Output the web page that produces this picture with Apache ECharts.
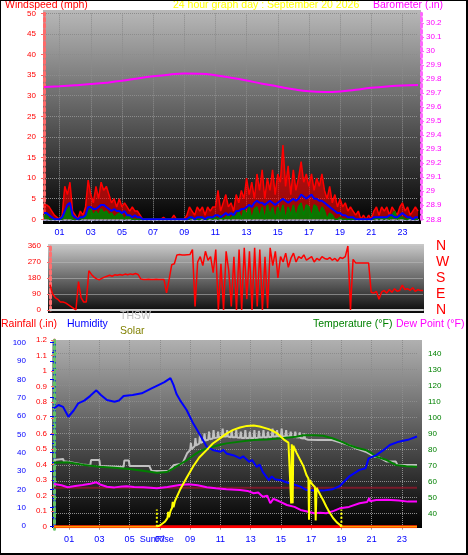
<!DOCTYPE html>
<html><head><meta charset="utf-8">
<script src="https://cdn.jsdelivr.net/npm/echarts@6/dist/echarts.min.js"></script>
<style>
html,body{margin:0;padding:0;background:#fff}
#wrap{position:relative;width:468px;height:555px}
#c{width:468px;height:555px}
#b{position:absolute;left:0;top:0;width:468px;height:555px;box-sizing:border-box;border:1px solid #000;border-right-width:2px;border-bottom-width:2px;pointer-events:none}
</style>
</head><body><div id="wrap"><div id="c"></div><div id="b"></div></div>
<script>
// ---------- tick labels / axis values ----------
const hourTicks = [1,3,5,7,9,11,13,15,17,19,21,23];
const sunTimes = [6.8, 19.0];               // sunrise, sunset (hours)
const compass = {0:'N', 90:'E', 180:'S', 270:'W', 360:'N'};

// ---------- top panel: 10-minute samples (index/6 = hour) ----------
const windGust = [
3.5,3.5,3,2,1,0.5, 0,1,8,6,9,2, 1,0,2,1,3,9.5, 6,4,8,5,9,7, 8,6,4,5,3,5, 3,4,3,2,3,2,
2,1,0,0,0,0, 0,0,0,0,0.5,0, 0,0,1,0,0,0, 0,1,3,2,1,3, 2,3,1,3,2,3, 3,7,2,4,6,3,
4,2,6,4,7,5, 10,6,9,5,11,7, 12,5,10,7,12,6, 11,9,18,8,13,6, 12,7,10,14,9,11, 8,11,7,10,8,11,
7,5,8,4,6,3, 5,3,4,2,3,2, 1,2,0,1,0,1, 0,2,3,1,3,2, 3,1,3,2,1,3, 4,2,3,1,2,3, 2];
const windSpeed = [
1.5,1.5,1,0.5,0,0, 0,0.5,2,3.5,4,1, 0.5,0,0.5,0.5,1,3, 3,2.5,2.5,3,3.5,3.5, 3,2.5,2,2.5,2,2, 1.5,2,1,1,0.5,1,
0.5,0.5,0,0,0,0, 0,0,0,0,0,0, 0,0,0,0,0,0, 0,0,0.5,0.5,0,0.5, 0.5,0.5,0,0.5,0.5,0.5, 1,1,0.5,1,1.5,1,
1.5,1,2,2,2.5,2.5, 3,3.5,3,4,4.5,4, 4,3.5,4,4.5,4,3.5, 4,4.5,5,4.5,4,4.5, 5,4.5,5,6,5.5,5, 5.5,6,5,5,4.5,4.5,
4,3.5,3,2.5,2,1.5, 1.5,1,1,0.5,0.5,0.5, 0,0,0,0,0,0, 0,0.5,0.5,0.5,0.5,0.5, 0.5,1,1,0.5,0.5,1, 1.5,1,0.5,0.5,0,0.5, 0.5];
const windAvg = [
0.5,1.5,0,0,0,0, 0,0,1,2.5,3,0, 0,0,0,0.5,0.5,2, 2.5,1,2,1,2.5,1.5, 2,1,1.5,0.5,1,1.5, 1,0,1,0.5,0,0,
0,0,0,0,0,0, 0,0,0,0,0,0, 0,0,0,0,0,0, 0,0,0,0.5,0,0, 0,0.5,0,0,0.5,0, 0.5,0,1,0,0.5,1,
0,1.5,0.5,2,0,2.5, 1,3,0,2.5,3,0.5, 3,0,3.5,1,3,0, 3,1,3.5,0,3,1, 3.5,0.5,3,4,1,3.5, 3,0.5,3.5,3,1,3,
2,0,1.5,1,0,0, 0.5,0,0,0,0,0, 0,0,0,0,0,0, 0,0,0.5,0,0.5,0, 0.5,0,1,2,0,0.5, 0.5,0,0,0.5,0,0, 0];
// hourly barometer (in)
const barometer = [29.744,29.750,29.757,29.765,29.775,29.788,29.805,29.820,29.832,29.840,29.838,29.828,
29.810,29.790,29.768,29.748,29.728,29.713,29.708,29.712,29.725,29.738,29.748,29.755,29.758];

// ---------- middle panel: wind direction, 10-minute samples ----------
const windDir = [
142,90,70,60,45,45, 40,30,20,10,0,160, 70,45,45,221,200,185, 175,170,178,185,190,195,
190,198,195,200,196,202, 198,203,200,205,200,175, 172,172,173,172,172,173, 172,172,172,96,172,255,
260,310,312,310,310,311, 312,340,20,270,300,250, 330,280,300,210,340,0, 260,0,330,220,20,300,
0,340,0,350,60,330, 0,350,20,340,0,300, 10,350,250,330,180,300, 270,320,240,290,320,270,
300,290,310,280,290,300, 270,290,280,300,290,285, 295,280,290,275,295,290, 300,360,0,285,265,265,
265,265,265,265,100,95, 105,60,100,110,95,115, 100,120,105,110,140,115, 120,110,125,105,115,110, 110];

// ---------- bottom panel: [hour, value] ----------
const rainfall = [[0,0],[6,0],[12,0],[18,0],[24,0]];
const rainLevel = [[0,0.25],[24,0.25]];
const humidity = [[0,64.2],[0.3,66],[0.6,65],[0.95,59.6],[1.3,63],[1.6,66.9],[2.0,68.4],[2.4,71],[2.8,74],[3.1,71.5],
[3.5,68.7],[4.0,67.8],[4.3,68.5],[4.6,70.9],[5.2,71.5],[5.8,72.4],[6.45,75.1],[6.9,76.9],[7.3,78.5],[7.7,80.7],
[7.9,77],[8.1,72],[8.33,68.7],[8.77,63.3],[9.2,56],[9.6,50.5],[10.1,43.3],[10.5,41.5],[11.0,40.5],[11.2,41.5],
[11.4,39.6],[11.9,38.5],[12.3,36.9],[12.5,38],[12.9,35],[13.1,36],[13.4,32.2],[13.6,33.5],[13.8,29.5],[14.2,25],
[14.4,27],[14.6,25.5],[15.0,25],[15.3,24],[15.6,23.3],[16.3,21.5],[16.7,19.6],[17.3,19.4],[17.8,19.3],[18.4,20],
[18.9,21.8],[19.5,26.9],[20.2,30.6],[20.6,31.5],[20.8,36.9],[21.3,38.7],[21.8,41.5],[22.2,44.2],[22.8,46],[23.4,47],[24,48.8]];
const temperature = [[0,71.6],[0.9,71.9],[2.0,70.2],[3.0,69.1],[4.0,68.5],[5.0,67.7],[6.0,66.4],[6.8,65.4],[7.45,65.8],
[7.9,68.1],[8.3,70.5],[8.8,73.3],[9.2,76],[9.6,78.5],[10.0,80.2],[10.5,81.6],[11.0,82.8],[11.4,83.7],[12.3,84.8],
[13.2,85.8],[14.1,86.2],[15.0,86.9],[16.0,87.9],[16.5,88.8],[17.2,88.8],[17.8,88.5],[18.4,86.9],[19.0,84.8],
[19.5,82.7],[20.0,81],[20.6,79.6],[21.0,77.5],[21.3,75.4],[22.0,73.3],[22.6,70.2],[23.3,69.4],[24,69.1]];
const thsw = [[0,73.3],[0.1,74],[0.6,74],[0.65,72.5],[1.0,72],[1.9,70.5],[2.0,70],[2.4,70],[2.45,73.3],[3.0,73.3],
[3.05,69.5],[4.6,69],[4.65,73],[4.95,73],[5.0,69.6],[6.3,69.6],[6.45,66.5],[7.6,66.6],[7.9,70],[8.5,71.2],[8.8,77.5],
[9.0,79.5],[9.05,84],[9.1,80],[9.3,82],[9.35,87],[9.4,82.5],[9.6,83.5],[9.65,89],[9.7,84],[9.9,85],[9.95,90],[10.0,85.5],
[10.2,86],[10.25,91],[10.3,86.3],[10.5,86.8],[10.55,92],[10.6,87],[10.8,87.3],[10.85,91],[10.9,87.5],[11.1,87.8],[11.15,93],
[11.2,88],[11.4,88],[11.45,92],[11.5,88],[11.7,87.5],[11.75,91.5],[11.8,87.5],[12.0,87.5],[12.05,92],[12.1,87.3],[12.3,87.2],
[12.35,91],[12.4,87],[12.6,87],[12.65,92],[12.7,87],[12.9,87],[12.95,91],[13.0,87],[13.2,87],[13.25,92],[13.3,87],[13.5,87.2],
[13.55,91.5],[13.6,87.3],[13.8,87.5],[13.85,92],[13.9,87.5],[14.1,87.6],[14.15,91],[14.2,87.7],[14.4,87.8],[14.45,93],[14.5,88],
[14.7,88],[14.75,92],[14.8,88],[15.0,88],[15.05,93],[15.1,88],[15.3,88],[15.35,92],[15.4,88],[15.6,88],[15.65,91],[15.7,87.8],
[15.9,87.6],[15.95,91],[16.0,87.5],[16.2,87.3],[16.25,90.5],[16.3,87],[16.5,86.8],[16.55,90],[16.6,86.5],[16.8,86],[17.5,85.8],
[18.4,85.8],[19.5,82.7],[20.0,80.5],[20.6,78.5],[21.2,75.4],[21.5,75],[21.6,74],[22.0,72.3],[22.6,72.3],[22.7,70.2],[24,70.2]];
const dewPoint = [[0,58.3],[0.5,57.5],[0.9,56.3],[1.4,57],[1.9,57.7],[2.4,58.5],[2.8,59.4],[3.1,57.8],[3.5,56.6],[4.0,56.2],
[4.5,56.8],[4.8,56.9],[5.3,56.5],[5.9,56.3],[6.4,56],[6.8,55.6],[7.5,56.5],[8.3,57.7],[8.9,58.1],[9.5,57.5],[10.1,56.3],
[10.7,55.6],[11.4,55],[12.3,54.6],[12.8,54],[13.2,52.5],[13.5,53],[13.8,50.4],[14.1,51],[14.3,46.3],[14.5,49],[14.7,48.3],
[15.0,47],[15.4,45.2],[15.9,44],[16.3,42.1],[16.8,41],[17.2,40],[17.6,40.3],[18.0,40],[18.5,41.5],[18.9,43.1],[19.5,44],
[20.2,46.3],[20.7,47],[20.85,49.5],[20.9,47.5],[21.3,48.3],[22.0,48.5],[22.8,48],[23.4,47.3],[24,47.3]];
const solar = [[0,0],[6.8,0],[7.0,8],[7.2,22],[7.35,34],[7.5,55],[7.55,95],[7.6,60],[7.7,100],[7.8,120],[7.85,160],[7.9,125],
[8.0,165],[8.33,237],[8.77,314],[9.2,387],[9.6,445],[10.1,494],[10.5,535],[11.0,569],[11.4,598],[11.85,622],[12.3,638],
[12.75,648],[13.2,650],[13.6,644],[14.2,627],[14.5,614],[14.75,600],[15.0,578],[15.2,560],[15.5,540],[15.6,535],[15.68,150],
[15.72,530],[15.78,150],[15.82,520],[16.05,473],[16.3,425],[16.5,387],[16.7,330],[16.82,310],[16.86,45],[16.9,300],[17.1,270],
[17.25,255],[17.3,40],[17.36,250],[17.5,225],[17.6,205],[17.8,170],[18.0,130],[18.2,95],[18.45,56],[18.7,28],[18.9,13],[19.0,0],[24,0]];

// ---------- chart ----------
const FONT = '"Liberation Sans", Arial, sans-serif';
const bySample = arr => arr.map((v, i) => [i / 6, v]);
const byHour = arr => arr.map((v, i) => [i, v]);
const pad = v => (v < 10 ? '0' : '') + v;
const grad = (a, b) => ({type:'linear', x:0, y:0, x2:0, y2:1, colorStops:[{offset:0, color:a},{offset:1, color:b}]});
const dotted = (c, w) => ({show:true, lineStyle:{color:c, type:'dotted', width:w}});
const gridLine = {show:true, lineStyle:{color:'#8c8c8c', type:'dotted', width:1}};
const lbl = (c, extra) => Object.assign({color:c, fontSize:8, fontFamily:FONT}, extra || {});
const txt = (t, l, tp, c, fs) => ({text:t, left:l, top:tp, padding:0, textStyle:{color:c, fontSize:fs || 10.5, fontWeight:'normal', fontFamily:FONT}});
const bottomLabels = hourTicks.concat([sunTimes[0]]).sort((a, b) => a - b);

const chart = echarts.init(document.getElementById('c'), null, {renderer:'canvas'});
chart.setOption({
  animation:false,
  backgroundColor:'#ffffff',
  textStyle:{fontFamily:FONT},
  graphic:[
    {type:'rect', z:-10, shape:{x:43, y:10, width:378, height:214}, style:{fill:grad('#b8b8b8','#000000')}},
    {type:'rect', z:-10, shape:{x:48, y:244, width:376, height:69}, style:{fill:grad('#cacaca','#080808')}},
    {type:'rect', z:-10, shape:{x:52, y:340, width:370, height:188}, style:{fill:grad('#b0b0b0','#000000')}}
  ],
  title:[
    txt('Windspeed (mph)', 5, 0, '#ff0000'),
    txt('24 hour graph day : September 20 2026', 173, 0, '#ffff00'),
    txt('Barometer (.in)', 373, 0, '#ff00ff'),
    txt('Rainfall (.in)', 1, 319, '#ff0000'),
    txt('Humidity', 67, 319, '#0000ff'),
    txt('THSW', 120, 311, '#c0c0c0'),
    txt('Solar', 120, 326, '#808000'),
    txt('Temperature (°F)', 313, 319, '#008000'),
    txt('Dew Point (°F)', 396, 319, '#ff00ff')
  ],
  visualMap:[{
    show:false, type:'piecewise', seriesIndex:11, dimension:0,
    pieces:[{lt:sunTimes[0], color:'#ff9900'},{gte:sunTimes[0], lte:sunTimes[1], color:'#ffff00'},{gt:sunTimes[1], color:'#ff9900'}]
  }],
  grid:[
    {left:44, right:50, top:13.3, bottom:335.7},
    {left:50, right:45, top:246, bottom:245},
    {left:54, right:51, top:340, bottom:28.3},
    {left:54, right:51, top:342.7, bottom:29},
    {left:54, right:51, top:337.3, bottom:25.7}
  ],
  xAxis:[
    {gridIndex:0, type:'value', min:0, max:24, offset:5,
     axisLine:dotted('#a8a8d0', 2), axisTick:{show:true, customValues:hourTicks, length:3, lineStyle:{color:'#a8a8d0'}},
     axisLabel:lbl('#0000ff', {customValues:hourTicks, formatter:pad, margin:4, fontSize:9}), splitLine:gridLine},
    {gridIndex:1, type:'value', min:0, max:24, offset:2,
     axisLine:{show:true, lineStyle:{color:'#d0d0d0', width:2}}, axisTick:{show:false}, axisLabel:{show:false}, splitLine:{show:false}},
    {gridIndex:2, type:'value', min:0, max:24, offset:2,
     axisLine:dotted('#a0a0a0', 2), axisTick:{show:true, customValues:hourTicks, length:3, lineStyle:{color:'#a0a0a0'}},
     axisLabel:lbl('#0000ff', {customValues:bottomLabels, margin:6, fontSize:9, formatter:v => v === sunTimes[0] ? 'SunRise' : pad(v)}),
     splitLine:gridLine},
    {gridIndex:3, type:'value', min:0, max:24, show:false},
    {gridIndex:4, type:'value', min:0, max:24, show:false}
  ],
  yAxis:[
    {gridIndex:0, type:'value', min:0, max:50, interval:5, position:'left', offset:3,
     axisLine:dotted('#ff6a6a', 3), axisTick:{show:true, length:3, lineStyle:{color:'#ff6a6a'}},
     axisLabel:lbl('#ff0000', {margin:5}), splitLine:gridLine},
    {gridIndex:0, type:'value', min:28.8, max:30.27, interval:0.1, position:'right', offset:3,
     axisLine:dotted('#ff66ff', 3), axisTick:{show:true, length:3, lineStyle:{color:'#ff66ff'}},
     axisLabel:lbl('#ff00ff', {margin:5, showMaxLabel:false, formatter:v => String(+v.toFixed(1))}), splitLine:{show:false}},
    {gridIndex:1, type:'value', min:0, max:360, interval:90, position:'left', offset:4,
     axisLine:dotted('#ff7070', 3), axisTick:{show:true, length:3, lineStyle:{color:'#ff7070'}},
     axisLabel:lbl('#ff0000', {margin:5}), splitLine:{show:true, lineStyle:{color:'rgba(190,190,190,0.55)', width:1}}},
    {gridIndex:1, type:'value', min:0, max:360, interval:90, position:'right',
     axisLine:{show:false}, axisTick:{show:false}, splitLine:{show:false},
     axisLabel:{color:'#ff0000', fontSize:14, fontFamily:FONT, margin:13, formatter:v => compass[v]}},
    {gridIndex:2, type:'value', min:0, max:1.2, interval:0.1, position:'left', offset:2,
     axisLine:dotted('#ff6a6a', 3), axisTick:{show:true, length:3, lineStyle:{color:'#ff6a6a'}},
     axisLabel:lbl('#ff0000', {margin:5, formatter:v => String(+v.toFixed(1))}), splitLine:{show:false}},
    {gridIndex:2, type:'value', min:0, max:1200, show:false},
    {gridIndex:3, type:'value', min:0, max:100, interval:10, position:'left', offset:24,
     axisLine:{show:true, lineStyle:{color:'#0000ff', width:3}}, axisTick:{show:true, length:4, lineStyle:{color:'#0000ff'}},
     minorTick:{show:true, splitNumber:2, length:2, lineStyle:{color:'#0000ff'}},
     axisLabel:lbl('#0000ff', {margin:4}), splitLine:{show:false}},
    {gridIndex:4, type:'value', min:30, max:150, interval:10, position:'right', offset:5,
     axisLine:dotted('#66c266', 3), axisTick:{show:true, length:3, lineStyle:{color:'#66c266'}},
     axisLabel:lbl('#008000', {margin:6, showMinLabel:false, showMaxLabel:false}),
     splitLine:{show:true, showMinLine:false, showMaxLine:false, lineStyle:{color:'#8c8c8c', type:'dotted', width:1}}}
  ],
  series:[
    {type:'line', xAxisIndex:0, yAxisIndex:0, data:bySample(windGust), symbol:'none',
     lineStyle:{color:'#ff0000', width:1.5}, areaStyle:{color:'#ff0000', opacity:0.6}},
    {type:'line', xAxisIndex:0, yAxisIndex:0, data:bySample(windAvg), symbol:'none',
     lineStyle:{color:'#008000', width:1.5}, areaStyle:{color:'#008000', opacity:0.9}},
    {type:'line', xAxisIndex:0, yAxisIndex:0, data:bySample(windSpeed), symbol:'none',
     lineStyle:{color:'#0000ff', width:2}},
    {type:'line', xAxisIndex:0, yAxisIndex:1, data:byHour(barometer), symbol:'none', smooth:true,
     lineStyle:{color:'#ff00ff', width:2}},
    {type:'line', xAxisIndex:1, yAxisIndex:2, data:bySample(windDir), symbol:'none',
     lineStyle:{color:'#ff0000', width:1.5}},
    {type:'line', xAxisIndex:2, yAxisIndex:4, data:rainLevel, symbol:'none',
     lineStyle:{color:'#7a1a2a', width:2}},
    {type:'line', xAxisIndex:4, yAxisIndex:7, data:thsw, symbol:'none',
     lineStyle:{color:'#c0c0c0', width:2}},
    {type:'line', xAxisIndex:4, yAxisIndex:7, data:temperature, symbol:'none',
     lineStyle:{color:'#008000', width:2}},
    {type:'line', xAxisIndex:4, yAxisIndex:7, data:dewPoint, symbol:'none',
     lineStyle:{color:'#ff00ff', width:2}},
    {type:'line', xAxisIndex:3, yAxisIndex:6, data:humidity, symbol:'none',
     lineStyle:{color:'#0000ff', width:2}},
    {type:'line', xAxisIndex:2, yAxisIndex:4, data:rainfall, symbol:'none',
     lineStyle:{color:'#ff0000', width:3}},
    {type:'line', xAxisIndex:2, yAxisIndex:5, data:solar, symbol:'none',
     lineStyle:{width:2}},
    {type:'line', xAxisIndex:2, yAxisIndex:4, data:[[sunTimes[0],0],[sunTimes[0],0.11]], symbol:'none',
     lineStyle:{color:'#ffff00', width:2, type:'dotted'}},
    {type:'line', xAxisIndex:2, yAxisIndex:4, data:[[sunTimes[1],0],[sunTimes[1],0.11]], symbol:'none',
     lineStyle:{color:'#ffff00', width:2, type:'dotted'}}
  ]
});
</script></body></html>
